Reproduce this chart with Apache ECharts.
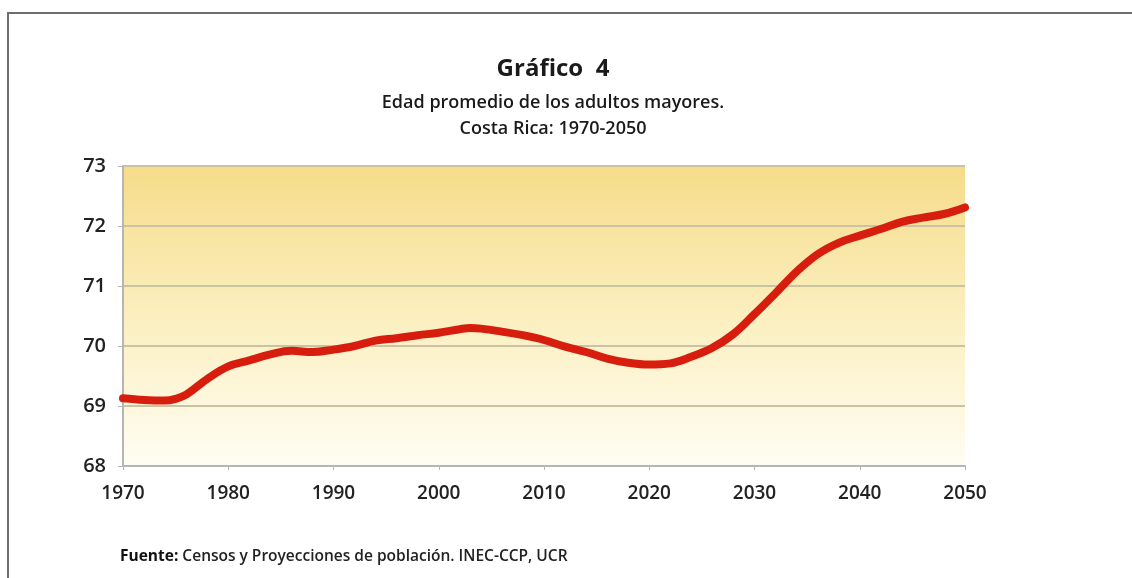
<!DOCTYPE html>
<html>
<head>
<meta charset="utf-8">
<style>
html,body{margin:0;padding:0;background:#fff;}
#chart{width:1132px;height:578px;}
</style>
<script src="https://cdn.jsdelivr.net/npm/echarts@6/dist/echarts.min.js"></script>
</head>
<body>
<div id="chart"></div>
<script>
const years = [1970,1972,1974,1975,1976,1978,1980,1982,1984,1986,1988,1990,1992,1994,1996,1998,2000,2002,2003,2004,2006,2008,2010,2012,2014,2016,2018,2020,2022,2024,2026,2028,2030,2032,2034,2036,2038,2040,2042,2044,2046,2048,2050];
const edadPromedio = [69.13,69.10,69.09,69.12,69.19,69.45,69.66,69.76,69.86,69.92,69.90,69.94,70.00,70.09,70.13,70.18,70.22,70.28,70.30,70.29,70.24,70.18,70.10,69.99,69.90,69.79,69.72,69.69,69.71,69.82,69.97,70.20,70.53,70.88,71.24,71.53,71.72,71.84,71.95,72.07,72.14,72.20,72.31];
const yTicks = [68,69,70,71,72,73];
const xTicks = [1970,1980,1990,2000,2010,2020,2030,2040,2050];

const chart = echarts.init(document.getElementById('chart'));
const font = '"Open Sans", "DejaVu Sans", sans-serif';
chart.setOption({
  animation: false,
  backgroundColor: '#ffffff',
  title: [
    {text: 'Gráfico  4', left: 548, textAlign: 'center', top: 52,
     textStyle: {fontFamily: font, fontSize: 24, fontWeight: 'bold', color: '#1a1a1a'}},
    {text: 'Edad promedio de los adultos mayores.\nCosta Rica: 1970-2050', left: 548, textAlign: 'center', top: 85,
     textStyle: {fontFamily: font, fontSize: 18, fontWeight: 600, color: '#1a1a1a', lineHeight: 26}},
    {text: '{b|Fuente:} Censos y Proyecciones de población. INEC-CCP, UCR', left: 115, top: 544,
     textStyle: {fontFamily: font, fontSize: 15.5, fontWeight: 600, color: '#222',
       rich: {b: {fontFamily: font, fontSize: 15.5, fontWeight: 'bold', color: '#111'}}}}
  ],
  graphic: [
    {type: 'rect', shape: {x: 8, y: 13, width: 1300, height: 800},
     style: {fill: 'none', stroke: '#6e6e6e', lineWidth: 2}, z: 100}
  ],
  grid: {left: 123, right: 167, top: 166, bottom: 112,
    show: true, borderWidth: 0,
    backgroundColor: new echarts.graphic.LinearGradient(0, 0, 0, 1, [
      {offset: 0, color: '#f6dc8a'},
      {offset: 0.5, color: '#fbefbf'},
      {offset: 1, color: '#fffdf3'}
    ])
  },
  xAxis: {
    type: 'value', min: 1970, max: 2050, interval: 10,
    axisLine: {show: true, lineStyle: {color: '#b5b5b5', width: 2}},
    axisTick: {show: true, length: 4, lineStyle: {color: '#b5b5b5'}},
    splitLine: {show: false},
    axisLabel: {margin: 18, fontFamily: font, fontSize: 19, fontWeight: 600, color: '#222',
      formatter: v => xTicks.includes(v) ? String(v) : ''}
  },
  yAxis: {
    type: 'value', min: 68, max: 73, interval: 1,
    axisLine: {show: true, lineStyle: {color: '#b5b5b5', width: 2}},
    axisTick: {show: true, length: 5, lineStyle: {color: '#b5b5b5'}},
    splitLine: {show: true, lineStyle: {color: '#c9c2a3', width: 2}},
    axisLabel: {margin: 17, fontFamily: font, fontSize: 20, fontWeight: 600, color: '#222',
      formatter: v => yTicks.includes(v) ? String(v) : ''}
  },
  series: [{
    type: 'line',
    data: years.map((y, i) => [y, edadPromedio[i]]),
    smooth: 0.4,
    showSymbol: false,
    lineStyle: {color: '#d71e0e', width: 8, cap: 'round', join: 'round'},
    z: 5
  }]
});
</script>
</body>
</html>
